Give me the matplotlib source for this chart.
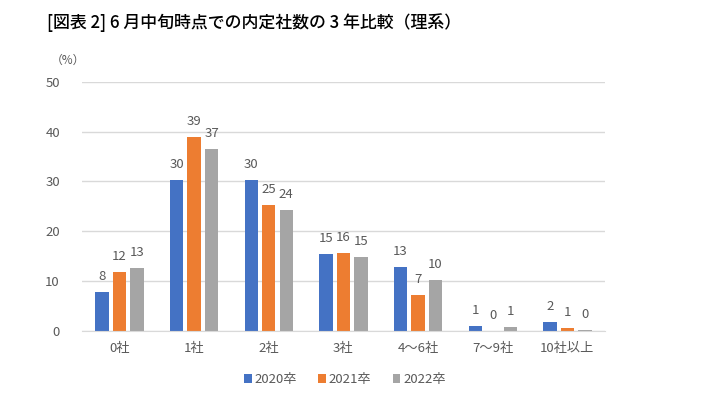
import numpy as np
import matplotlib
matplotlib.use("Agg")
import matplotlib.pyplot as plt

plt.rcParams['font.family'] = ['Noto Sans CJK JP', 'DejaVu Sans']

categories = ['0社', '1社', '2社', '3社', '4～6社', '7～9社', '10社以上']
series = ['2020卒', '2021卒', '2022卒']
v2020 = [7.9, 30.3, 30.3, 15.4, 12.9, 0.9, 1.7]
v2021 = [11.9, 39.0, 25.2, 15.7, 7.2, 0.0, 0.6]
v2022 = [12.7, 36.6, 24.3, 14.8, 10.3, 0.7, 0.2]
colors = ['#4472C4', '#ED7D31', '#A5A5A5']
txt = '#595959'

fig = plt.figure(figsize=(7.14, 4.09), dpi=100)
ax = fig.add_axes([0.115, 0.191, 0.732, 0.609])

x = np.arange(len(categories))
step = 0.234
width = 0.18
for i, (name, vals) in enumerate(zip(series, [v2020, v2021, v2022])):
    pos = x + (i - 1) * step
    ax.bar(pos, vals, width, color=colors[i], label=name, zorder=2)
    for p, v in zip(pos, vals):
        ax.text(p, v + 1.8, '%.0f' % v, ha='center', va='bottom',
                fontsize=9.5, color=txt)

ax.set_xlim(-0.5, len(categories) - 0.5)
ax.set_ylim(0, 50)
ax.set_yticks(range(0, 51, 10))
ax.yaxis.grid(True, color='#D9D9D9', linewidth=1, zorder=0)
ax.set_xticks(x)
ax.set_xticklabels(categories)
for s in ['top', 'right', 'left']:
    ax.spines[s].set_visible(False)
ax.spines['bottom'].set_color('#D9D9D9')
ax.tick_params(axis='both', length=0, labelsize=9.5, colors=txt)
ax.tick_params(axis='y', pad=16)
ax.tick_params(axis='x', pad=8)

fig.text(0.066, 0.945, '[図表 2] 6 月中旬時点での内定社数の 3 年比較（理系）',
         fontsize=12.2, fontweight='medium', color='black', va='center', ha='left')
fig.text(0.071, 0.853, '（%）', fontsize=8.5, color=txt, va='center', ha='left')

leg = fig.legend(loc='center', bbox_to_anchor=(0.483, 0.072), ncol=3,
                 frameon=False, fontsize=9.5, handlelength=0.6, handleheight=0.6,
                 handletextpad=0.2, columnspacing=1.6)
for t in leg.get_texts():
    t.set_color(txt)

fig.savefig('out.png', dpi=100)
